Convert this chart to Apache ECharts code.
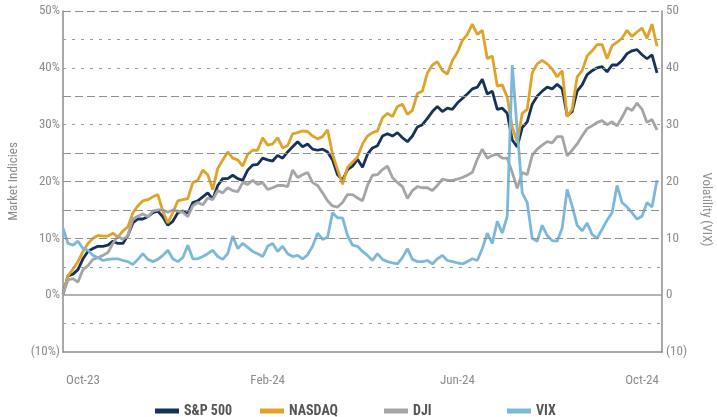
<!DOCTYPE html>
<html>
<head>
<meta charset="utf-8">
<script src="https://cdn.jsdelivr.net/npm/echarts@6/dist/echarts.min.js"></script>
<style>
  html, body { margin: 0; padding: 0; background: #fff; }
  #chart { width: 717px; height: 417px; }
</style>
</head>
<body>
<div id="chart"></div>
<script>
// one point roughly every trading week, Oct-23 .. Oct-24
const tickIndex = [4, 41, 79, 116]
const tickLabels = ['Oct-23', 'Feb-24', 'Jun-24', 'Oct-24']
const categoryCount = 121

const sp500 = [
  0.2, 3.4, 3.7, 4.5, 6.4, 7.7, 8.2, 8.6, 8.6, 8.8,
  9.5, 9.1, 9.1, 10.5, 12.7, 13.4, 13.4, 13.8, 14.5, 14.8,
  13.8, 12.3, 13, 14.5, 14.8, 14.3, 16.3, 16.6, 17.3, 18,
  16.9, 19.3, 20.5, 20.5, 21.1, 20.5, 20.2, 22, 22.9, 23,
  24.1, 23.8, 23.6, 24.6, 24.1, 25.2, 26.1, 27, 26.1, 26.6,
  25.7, 25.5, 25.7, 25.2, 23.8, 21.2, 20.2, 22.1, 22.7, 23.9,
  22.5, 24.8, 25.9, 26.3, 28, 28.4, 28, 28.6, 27.7, 27,
  28, 29.6, 30, 31.1, 32.3, 33.2, 32.3, 32.9, 32.7, 33.8,
  34.6, 35.4, 36.3, 36.6, 38, 35.4, 35.9, 32.7, 32.9, 32,
  27.3, 26.1, 29.5, 30.5, 33.6, 35, 35.9, 36.6, 36.3, 37.1,
  36.3, 31.6, 32.3, 35.9, 37, 38.8, 39.5, 40, 40.2, 39.3,
  40.5, 40.5, 41.3, 42.5, 43, 43.2, 42.3, 41.6, 42.3, 39.1
]
const nasdaq = [
  0.2, 3.4, 4.6, 5.9, 7.7, 9.1, 10, 10.5, 10.4, 10.4,
  10.9, 10.2, 11.3, 12, 14.5, 15.7, 16.6, 16.8, 17.3, 17.7,
  14.8, 12.7, 14.5, 16.6, 16.8, 17, 19.8, 20.2, 22, 21.2,
  18.6, 22.3, 23.8, 25.2, 24.1, 23.8, 22.7, 24.8, 25.5, 25.5,
  27.7, 26.4, 26.6, 27.7, 25.9, 26.3, 28.4, 28.6, 28.9, 28.8,
  28, 27.5, 27.9, 29.1, 24.8, 22.1, 19.5, 22.5, 23.4, 24.3,
  26.6, 28, 28.6, 28.9, 31.2, 32, 31.4, 33.2, 33.6, 31.8,
  32.5, 35.5, 35.9, 39.1, 40.5, 41.1, 39.5, 38.9, 41.3, 42.7,
  44.8, 45.9, 47.7, 45.9, 46.6, 41.6, 42.1, 36.8, 37, 34.8,
  29.6, 27, 32, 32.7, 39.1, 40.7, 41.3, 40.7, 39.8, 38.4,
  39.5, 31.4, 32.7, 38.4, 39.5, 42.1, 43, 44.1, 44.1, 41.6,
  43.9, 44.5, 45.2, 46.6, 45.5, 46.3, 47, 45.2, 47.7, 43.8
]
const dji = [
  0.2, 2.7, 2.9, 2.3, 4.5, 5.2, 6.3, 6.6, 7, 7.5,
  9.1, 10.4, 9.8, 10.5, 13.4, 13.9, 14.3, 13.8, 14.8, 15,
  15, 14.6, 15, 14.8, 14.6, 13.8, 15.7, 16.3, 15.9, 17.1,
  16.8, 18.4, 18, 18.9, 18.4, 18.2, 19.8, 19.5, 20.2, 19.5,
  19.8, 18.6, 18.9, 19.3, 19.3, 19.1, 22, 20.7, 21.2, 21.6,
  19.8, 19.3, 18, 16.6, 15.7, 15.5, 16.3, 17.7, 17.7, 17.1,
  16.6, 19.3, 21.1, 21.2, 22.1, 22.7, 20.7, 19.8, 19.1, 17,
  18.4, 19.1, 18.9, 18.9, 18.4, 19.3, 20.4, 20.2, 20.2, 20.4,
  20.7, 21.1, 21.6, 23.9, 25.7, 24.1, 24.6, 24.8, 24.1, 24.1,
  21.6, 18.8, 21.6, 21.2, 24.6, 25.7, 26.4, 27, 26.8, 27.9,
  27.9, 24.5, 25.5, 26.6, 28, 29.3, 29.8, 30.4, 30.7, 30,
  30.5, 29.8, 31.3, 33, 32.5, 33.8, 32.7, 30.4, 30.9, 29.1
]
const vix = [
  11.8, 9.1, 8.8, 9.5, 8.2, 7.9, 7, 6.6, 6.1, 6.3,
  6.4, 6.4, 6.1, 5.9, 5.4, 6.3, 7.3, 6.3, 5.9, 6.3,
  7, 7.9, 6.4, 5.9, 6.6, 8.8, 6.4, 6.4, 6.8, 7.3,
  7.9, 6.8, 6.3, 7.3, 10.4, 8.2, 9.1, 8.4, 7.7, 7.3,
  6.8, 8.6, 9.1, 7.7, 8.6, 7.3, 6.8, 7, 6.4, 7.1,
  8.6, 10.9, 9.8, 10.2, 14.5, 13.6, 13.6, 10.5, 8.8, 8.6,
  7.7, 7, 6.1, 7.3, 6.3, 5.9, 5.7, 5.5, 6.6, 8.2,
  6.3, 5.9, 5.9, 6.1, 5.5, 6.4, 7, 6.1, 5.9, 5.7,
  5.5, 5.9, 6.4, 6.1, 8.2, 10.9, 9.1, 13, 10.9, 13.9,
  40.5, 29, 18, 16.3, 10, 9.5, 12.3, 10.5, 9.6, 9.5,
  11.8, 18.6, 15.7, 12.3, 11.3, 12.7, 10.7, 10, 11.6, 13.2,
  14.5, 19.3, 16.3, 15.5, 14.5, 13.4, 13.9, 16.3, 15.5, 20.2
]

const gridLong = [50, 35, 25, 20, 15, 10]
const gridShort = [45, 40, 30, 5, -5]

const categories = Array.from({ length: categoryCount }, (_, i) => i)
const font = "'Roboto Condensed', 'Liberation Sans Narrow', 'DejaVu Sans Condensed', Roboto, sans-serif"
const axisGray = '#8c8c8c'

let myChart = echarts.init(document.getElementById('chart'))

const lineSeries = (name, data, color, yAxisIndex) => ({
  name: name,
  type: 'line',
  data: data,
  yAxisIndex: yAxisIndex,
  symbol: 'none',
  z: 3,
  lineStyle: { color: color, width: 2.8 },
  itemStyle: { color: color }
})

const legendItem = (name, left) => ({
  data: [name],
  left: left,
  top: 399,
  icon: 'rect',
  itemWidth: 24,
  itemHeight: 5,
  itemGap: 5,
  textStyle: { fontFamily: font, fontSize: 14, fontWeight: 'bold', color: '#555' }
})

myChart.setOption({
  animation: false,
  grid: { left: 63, right: 55, top: 11, bottom: 65, containLabel: false, outerBoundsMode: 'none' },
  legend: [
    legendItem('S&P 500', 150),
    legendItem('NASDAQ', 255),
    legendItem('DJI', 379),
    legendItem('VIX', 502)
  ],
  xAxis: {
    type: 'category',
    data: categories,
    boundaryGap: false,
    axisLine: { onZero: false, lineStyle: { color: axisGray, width: 1.5 } },
    axisTick: { show: false },
    splitLine: { show: false },
    axisLabel: {
      margin: 22,
      color: axisGray,
      fontFamily: font,
      fontSize: 13,
      interval: (i) => tickIndex.indexOf(i) >= 0,
      formatter: (v, i) => tickLabels[tickIndex.indexOf(i)] || ''
    }
  },
  yAxis: [
    {
      type: 'value',
      min: -10,
      max: 50,
      interval: 10,
      name: 'Market Indicies',
      nameLocation: 'middle',
      nameGap: 43,
      nameTextStyle: { color: axisGray, fontFamily: font, fontSize: 13 },
      axisLine: { show: true, lineStyle: { color: axisGray, width: 1.5 } },
      axisTick: { show: false },
      splitLine: { show: false },
      axisLabel: {
        color: axisGray,
        fontFamily: font,
        fontSize: 13,
        margin: 3,
        formatter: (v) => v < 0 ? '(' + (-v) + '%)' : v + '%'
      }
    },
    {
      type: 'value',
      min: -10,
      max: 50,
      interval: 10,
      position: 'right',
      name: 'Volatility (VIX)',
      nameLocation: 'middle',
      nameRotate: -90,
      nameGap: 38,
      nameTextStyle: { color: axisGray, fontFamily: font, fontSize: 13, padding: [0, 0, 0, 56] },
      axisLine: { show: true, lineStyle: { color: axisGray, width: 1.5 } },
      axisTick: { show: false },
      splitLine: { show: false },
      axisLabel: {
        color: axisGray,
        fontFamily: font,
        fontSize: 13,
        margin: 4,
        formatter: (v) => v < 0 ? '(' + (-v) + ')' : String(v)
      }
    }
  ],
  series: [
    {
      name: 'gridlines',
      type: 'line',
      data: [],
      z: 1,
      silent: true,
      markLine: {
        silent: true,
        symbol: 'none',
        label: { show: false },
        data: [
          ...gridLong.map(v => ({ yAxis: v, lineStyle: { type: [8, 4], color: '#8f8f8f', width: 1 } })),
          ...gridShort.map(v => ({ yAxis: v, lineStyle: { type: [3, 6], color: '#9a9a9a', width: 1 } })),
          { yAxis: 0, lineStyle: { type: 'solid', color: '#9a9a9a', width: 1.5 } }
        ]
      }
    },
    lineSeries('S&P 500', sp500, '#15325c', 0),
    lineSeries('NASDAQ', nasdaq, '#e0a327', 0),
    lineSeries('DJI', dji, '#a5a5a5', 0),
    lineSeries('VIX', vix, '#7bb8da', 1)
  ]
})
</script>
</body>
</html>
